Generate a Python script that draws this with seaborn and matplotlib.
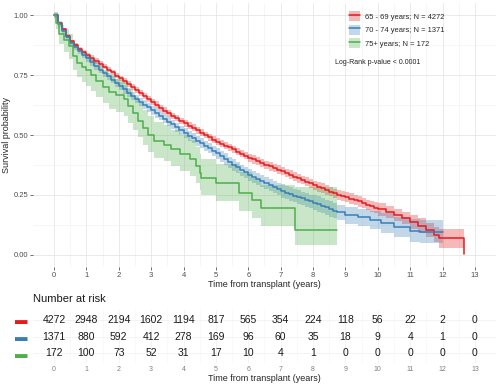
import matplotlib
matplotlib.use("Agg")
import matplotlib.pyplot as plt
from matplotlib.lines import Line2D
from matplotlib.patches import Patch
import numpy as np
import pandas as pd
import seaborn as sns

# group labels and colours (Set1-like)
groups = ["65 - 69 years; N = 4272", "70 - 74 years; N = 1371", "75+ years; N = 172"]
colors = ["#E41A1C", "#377EB8", "#4DAF4A"]

# 65-69 years: KM estimate
red_t = [0, 0.125, 0.25, 0.375, 0.5, 0.625, 0.75, 0.875, 1.0, 1.125, 1.25, 1.375, 1.5,
         1.625, 1.75, 1.875, 2.0, 2.125, 2.25, 2.375, 2.5, 2.625, 2.75, 2.875, 3.0,
         3.125, 3.25, 3.375, 3.5, 3.625, 3.75, 3.875, 4.0, 4.125, 4.25, 4.375, 4.5,
         4.625, 4.75, 4.875, 5.0, 5.125, 5.25, 5.375, 5.5, 5.625, 5.75, 5.875, 6.0,
         6.125, 6.25, 6.375, 6.5, 6.625, 6.75, 6.875, 7.0, 7.125, 7.25, 7.375, 7.5,
         7.625, 7.75, 7.875, 8.0, 8.125, 8.25, 8.375, 8.5, 8.625, 8.75, 8.875, 9.0,
         9.125, 9.25, 9.375, 9.5, 9.625, 9.75, 9.875, 10.0, 10.25, 10.5, 10.75, 11.0,
         11.25, 11.5, 11.75, 11.9, 12.65]
red_s = [1.0, 0.965, 0.94, 0.913, 0.89, 0.874, 0.86, 0.846, 0.833, 0.821, 0.809, 0.797,
         0.785, 0.773, 0.761, 0.748, 0.736, 0.724, 0.712, 0.7, 0.688, 0.676, 0.664,
         0.651, 0.639, 0.627, 0.614, 0.602, 0.59, 0.58, 0.57, 0.559, 0.549, 0.539, 0.53,
         0.52, 0.51, 0.5, 0.491, 0.481, 0.472, 0.464, 0.456, 0.448, 0.44, 0.431, 0.422,
         0.413, 0.405, 0.398, 0.39, 0.383, 0.375, 0.369, 0.362, 0.356, 0.35, 0.342,
         0.335, 0.327, 0.32, 0.313, 0.306, 0.298, 0.29, 0.284, 0.278, 0.272, 0.264,
         0.257, 0.25, 0.246, 0.241, 0.235, 0.229, 0.223, 0.216, 0.209, 0.203, 0.197,
         0.19, 0.178, 0.166, 0.153, 0.138, 0.122, 0.103, 0.085, 0.07, 0.005]
# half-width of the confidence band, one value per year (0..12)
red_ci_year = [0.008, 0.011, 0.012, 0.013, 0.014, 0.015, 0.017, 0.018, 0.02, 0.022,
               0.026, 0.03, 0.04]

# 70-74 years
blue_t = [0, 0.125, 0.25, 0.375, 0.5, 0.625, 0.75, 0.875, 1.0, 1.125, 1.25, 1.375,
          1.5, 1.625, 1.75, 1.875, 2.0, 2.125, 2.25, 2.375, 2.5, 2.625, 2.75, 2.875,
          3.0, 3.125, 3.25, 3.375, 3.5, 3.625, 3.75, 3.875, 4.0, 4.125, 4.25, 4.375,
          4.5, 4.625, 4.75, 4.875, 5.0, 5.125, 5.25, 5.375, 5.5, 5.625, 5.75, 5.875,
          6.0, 6.125, 6.25, 6.375, 6.5, 6.625, 6.75, 6.875, 7.0, 7.125, 7.25, 7.375,
          7.5, 7.625, 7.75, 7.875, 8.0, 8.125, 8.25, 8.375, 8.5, 8.625, 8.75, 9.0, 9.4,
          9.75, 10.1, 10.5, 11.0, 11.3, 12.0]
blue_s = [1.0, 0.962, 0.935, 0.907, 0.882, 0.866, 0.85, 0.835, 0.82, 0.804, 0.788,
          0.773, 0.757, 0.744, 0.73, 0.717, 0.704, 0.69, 0.677, 0.663, 0.649, 0.638,
          0.627, 0.615, 0.604, 0.592, 0.58, 0.568, 0.556, 0.544, 0.532, 0.519, 0.507,
          0.497, 0.486, 0.476, 0.465, 0.455, 0.445, 0.434, 0.424, 0.412, 0.4, 0.387,
          0.375, 0.365, 0.354, 0.344, 0.334, 0.325, 0.316, 0.307, 0.298, 0.29, 0.282,
          0.274, 0.266, 0.26, 0.254, 0.247, 0.241, 0.236, 0.23, 0.224, 0.218, 0.212,
          0.206, 0.199, 0.192, 0.185, 0.177, 0.166, 0.157, 0.146, 0.134, 0.118, 0.1,
          0.097, 0.097]
blue_ci_year = [0.012, 0.015, 0.017, 0.019, 0.021, 0.023, 0.025, 0.028, 0.032, 0.036,
                0.042, 0.048, 0.055]

# 75+ years (asymmetric band)
green_t = [0, 0.05, 0.15, 0.3, 0.45, 0.6, 0.7, 0.85, 1.0, 1.15, 1.3, 1.5, 1.7, 1.9,
           2.15, 2.3, 2.45, 2.6, 2.75, 2.9, 3.1, 3.4, 3.6, 3.9, 4.2, 4.4, 4.5, 4.55,
           5.0, 5.7, 6.1, 6.4, 7.45, 8.75]
green_s = [1.0, 0.965, 0.92, 0.895, 0.87, 0.83, 0.8, 0.785, 0.77, 0.75, 0.725, 0.7,
           0.68, 0.665, 0.65, 0.62, 0.59, 0.56, 0.53, 0.5, 0.475, 0.46, 0.44, 0.42, 0.4,
           0.37, 0.34, 0.32, 0.3, 0.26, 0.23, 0.195, 0.105, 0.105]
green_lo = [1.0, 0.94, 0.88, 0.845, 0.815, 0.77, 0.74, 0.72, 0.705, 0.685, 0.66, 0.635,
            0.61, 0.595, 0.58, 0.55, 0.52, 0.49, 0.46, 0.43, 0.405, 0.39, 0.37, 0.35,
            0.33, 0.3, 0.27, 0.25, 0.225, 0.185, 0.155, 0.12, 0.04, 0.04]
green_hi = [1.0, 0.99, 0.96, 0.94, 0.92, 0.885, 0.86, 0.845, 0.83, 0.815, 0.79, 0.765,
            0.75, 0.735, 0.72, 0.69, 0.66, 0.635, 0.605, 0.58, 0.555, 0.54, 0.52, 0.5,
            0.48, 0.45, 0.42, 0.4, 0.38, 0.345, 0.32, 0.29, 0.285, 0.285]

# number at risk table
risk_times = list(range(14))
risk_red = [4272, 2948, 2194, 1602, 1194, 817, 565, 354, 224, 118, 56, 22, 2, 0]
risk_blue = [1371, 880, 592, 412, 278, 169, 96, 60, 35, 18, 9, 4, 1, 0]
risk_green = [172, 100, 73, 52, 31, 17, 10, 4, 1, 0, 0, 0, 0, 0]

curves = pd.concat([
    pd.DataFrame({"time": red_t, "surv": red_s, "group": groups[0]}),
    pd.DataFrame({"time": blue_t, "surv": blue_s, "group": groups[1]}),
    pd.DataFrame({"time": green_t, "surv": green_s, "group": groups[2]}),
])


def band(t, s, ci_year):
    # look up the yearly half-width for each step
    hw = np.array(ci_year)[np.minimum(np.floor(t).astype(int), len(ci_year) - 1)]
    return t, np.array(s) - hw, np.array(s) + hw


bands = [
    band(np.array(red_t[:-1]), red_s[:-1], red_ci_year),
    band(np.array(blue_t), blue_s, blue_ci_year),
    (green_t, green_lo, green_hi),
]

sns.set_theme(style="whitegrid")
plt.rcParams["font.family"] = ["Liberation Sans", "DejaVu Sans"]

fig = plt.figure(figsize=(4.99, 3.88), dpi=100)
ax = fig.add_axes([0.066, 0.312, 0.928, 0.680])
xlim = (-0.65, 13.65)

for (bt, lo, hi), c in zip(bands, colors):
    ax.fill_between(bt, lo, hi, step="post", color=c, alpha=0.3, lw=0)
# the last red step (12 -> 12.65) keeps its band
ax.fill_between([red_t[-2], red_t[-1]], red_s[-2] - red_ci_year[-1],
                red_s[-2] + red_ci_year[-1], color=colors[0], alpha=0.3, lw=0)

sns.lineplot(data=curves, x="time", y="surv", hue="group", palette=colors,
             estimator=None, drawstyle="steps-post", lw=1.1, legend=False, ax=ax)

ax.set_xlim(*xlim)
ax.set_ylim(-0.05, 1.05)
ax.set_xticks(range(14))
ax.set_yticks([0, 0.25, 0.5, 0.75, 1.0])
ax.set_yticklabels(["0.00", "0.25", "0.50", "0.75", "1.00"])
ax.set_xticks(np.arange(0.5, 13.5, 1), minor=True)
ax.set_yticks([0.125, 0.375, 0.625, 0.875], minor=True)
ax.grid(which="major", color="#E6E6E6", lw=0.6)
ax.grid(which="minor", color="#F0F0F0", lw=0.4)
for s in ax.spines.values():
    s.set_visible(False)
ax.tick_params(axis="both", which="major", labelsize=5.5, labelcolor="#4D4D4D",
               length=2, width=0.5, color="#333333", pad=1.5, bottom=True, left=True)
ax.tick_params(which="minor", length=0)
ax.set_xlabel("Time from transplant (years)", fontsize=6.5, labelpad=1)
ax.set_ylabel("Survival probability", fontsize=6.5, labelpad=2)

handles = [(Patch(facecolor=c, alpha=0.3, lw=0), Line2D([], [], color=c, lw=1.1))
           for c in colors]
ax.legend(handles, groups, loc="upper left", bbox_to_anchor=(0.668, 0.995),
          fontsize=5.4, frameon=False, handlelength=1.4, handleheight=1.7,
          labelspacing=0.45, handletextpad=0.7)
ax.text(0.745, 0.775, "Log-Rank p-value < 0.0001", transform=ax.transAxes,
        fontsize=5, ha="center", va="center", color="#222222")

# risk table
tab = fig.add_axes([0.066, 0.064, 0.928, 0.137])
rows = [risk_red, risk_blue, risk_green]
for i, vals in enumerate(rows):
    for t, v in zip(risk_times, vals):
        tab.text(t, i, str(v), ha="center", va="center", fontsize=7.5, color="#1A1A1A")
tab.set_xlim(*xlim)
tab.set_ylim(2.6, -0.6)
tab.set_xticks(risk_times)
tab.set_xticks(np.arange(0.5, 13.5, 1), minor=True)
tab.set_yticks([0, 1, 2])
tab.set_yticklabels(["\u25ac"] * 3, fontsize=9)
for lbl, c in zip(tab.get_yticklabels(), colors):
    lbl.set_color(c)
tab.grid(which="major", color="#EEEEEE", lw=0.5)
tab.grid(which="minor", color="#F5F5F5", lw=0.4)
for s in tab.spines.values():
    s.set_visible(False)
tab.tick_params(axis="x", labelsize=5, labelcolor="#7F7F7F", length=0, pad=2)
tab.tick_params(axis="y", length=0, pad=4)
tab.tick_params(which="minor", length=0)
tab.set_xlabel("Time from transplant (years)", fontsize=6.5, labelpad=1)
fig.text(0.066, 1 - 299 / 388, "Number at risk", fontsize=8, ha="left", va="center",
         color="#1A1A1A")

fig.savefig("out.png", dpi=100)
